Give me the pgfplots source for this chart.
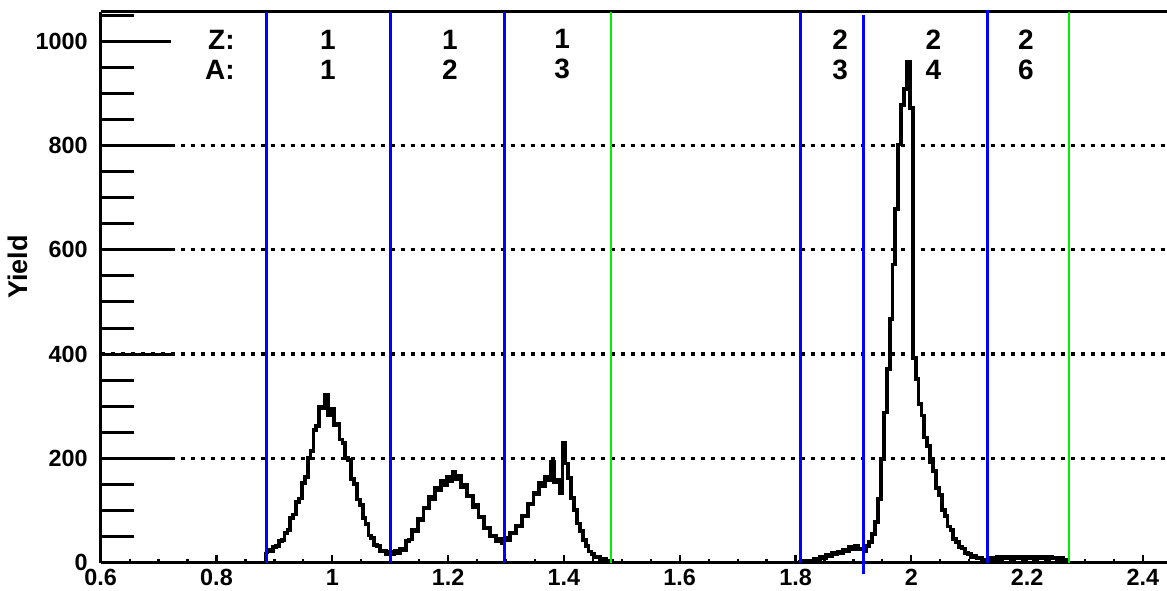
\documentclass[border=0pt]{standalone}
\usepackage{fontspec}
\setmainfont{Liberation Sans}
\usepackage{pgfplots}
\pgfplotsset{compat=1.18}
\definecolor{rootblue}{RGB}{0,0,255}
\definecolor{rootgreen}{RGB}{0,240,0}
\pgfplotstableread{
x y
0.8855 0
0.885 20
0.890 24
0.895 22
0.900 30
0.905 31
0.910 41
0.915 43
0.920 56
0.925 62
0.930 85
0.935 92
0.940 116
0.945 123
0.950 152
0.955 164
0.960 200
0.965 214
0.970 254
0.975 262
0.980 298
0.985 296
0.990 322
0.995 282
1.000 294
1.005 264
1.010 266
1.015 236
1.020 230
1.025 201
1.030 197
1.035 160
1.040 151
1.045 121
1.050 111
1.055 86
1.060 74
1.065 52
1.070 47
1.075 34
1.080 31
1.085 21
1.090 23
1.095 16
1.100 21
1.105 17
1.110 22
1.115 18
1.120 27
1.125 24
1.130 42
1.135 44
1.140 63
1.145 60
1.150 83
1.155 82
1.160 104
1.165 105
1.170 126
1.175 122
1.180 144
1.185 138
1.190 156
1.195 149
1.200 164
1.205 157
1.210 174
1.215 160
1.220 166
1.225 145
1.230 148
1.235 127
1.240 128
1.245 107
1.250 110
1.255 87
1.260 87
1.265 66
1.270 66
1.275 50
1.280 52
1.285 41
1.290 46
1.295 37
1.300 48
1.305 43
1.310 57
1.315 56
1.320 71
1.325 70
1.330 90
1.335 89
1.340 112
1.345 112
1.350 134
1.355 132
1.360 152
1.365 146
1.370 164
1.375 158
1.380 194
1.385 154
1.390 158
1.395 134
1.400 229
1.405 190
1.410 162
1.415 124
1.420 101
1.425 75
1.430 60
1.435 43
1.440 31
1.445 21
1.450 17
1.455 11
1.460 10
1.465 6
1.470 7
1.475 3
1.480 3
1.485 0
1.805 0
1.810 1
1.815 3
1.820 2
1.825 4
1.830 4
1.835 7
1.840 6
1.845 10
1.850 9
1.855 14
1.860 13
1.865 18
1.870 16
1.875 21
1.880 19
1.885 25
1.890 22
1.895 30
1.900 26
1.905 32
1.910 25
1.915 26
1.920 21
1.925 31
1.930 40
1.935 55
1.940 78
1.945 122
1.950 198
1.955 288
1.960 372
1.965 468
1.970 572
1.975 678
1.980 802
1.985 878
1.990 908
1.995 960
2.000 872
2.005 392
2.010 352
2.015 304
2.020 282
2.025 240
2.030 224
2.035 193
2.040 175
2.045 143
2.050 130
2.055 101
2.060 90
2.065 69
2.070 63
2.075 45
2.080 40
2.085 30
2.090 27
2.095 18
2.100 17
2.105 11
2.110 12
2.115 8
2.120 8
2.125 5
2.130 5
2.135 7
2.140 9
2.145 6
2.150 10
2.155 7
2.160 11
2.165 8
2.170 10
2.175 6
2.180 11
2.185 8
2.190 10
2.195 7
2.200 11
2.205 8
2.210 10
2.215 7
2.220 11
2.225 9
2.230 10
2.235 7
2.240 10
2.245 8
2.250 9
2.255 6
2.260 8
2.265 5
2.270 0
}\spectrum
\begin{document}
\begin{tikzpicture}
\useasboundingbox (-50.35pt,-13.75pt) rectangle (533.15pt,281.25pt);
\begin{axis}[
  at={(0pt,0pt)}, anchor=south west,
  scale only axis, width=533.15pt, height=275.4pt,
  xmin=0.6, xmax=2.4416, ymin=0, ymax=1057,
  clip=false,
  axis x line=box, axis y line=left,
  axis line style={line width=1.5pt, -},
  every outer x axis line/.append style={-},
  every outer y axis line/.append style={-},
  xtick={0.6,0.8,1,1.2,1.4,1.6,1.8,2,2.2,2.4},
  minor x tick num=3,
  xtick pos=bottom,
  ytick={0,200,400,600,800,1000},
  minor ytick={50,100,150,250,300,350,450,500,550,650,700,750,850,900,950,1050},
  tick align=inside,
  major tick length=35pt, minor tick length=16.5pt,
  ytick style={line width=1.5pt, black},
  minor y tick style={line width=1.5pt, black},
  xtick style={line width=1.1pt, black, /pgfplots/major tick length=4pt, /pgfplots/minor tick length=2pt},
  /pgf/number format/assume math mode=true,
  /pgf/number format/1000 sep={},
  ticklabel style={font=\fontsize{11.7}{14}\selectfont\bfseries},
  yticklabel style={xshift=-3pt},
  extra y ticks={200,400,600,800},
  extra y tick labels={},
  extra y tick style={grid=major, major grid style={black, line width=1.6pt, dash pattern=on 2pt off 3pt}},
  ylabel={Yield},
  every axis y label/.style={at={(axis description cs:-0.0776,0.5365)}, rotate=90, anchor=center, font=\fontsize{13.5}{15}\selectfont\bfseries},
]
\addplot[const plot mark mid, black, line width=1.9pt] table[x=x, y=y] {\spectrum};
\addplot[rootblue, line width=1.5pt] coordinates {(0.8855,0) (0.8855,1057)};
\addplot[rootblue, line width=1.5pt] coordinates {(1.0997,0) (1.0997,1057)};
\addplot[rootblue, line width=1.5pt] coordinates {(1.297,0) (1.297,1057)};
\addplot[rootgreen, line width=1.2pt] coordinates {(1.481,0) (1.481,1057)};
\addplot[rootblue, line width=1.5pt] coordinates {(1.808,0) (1.808,1057)};
\addplot[rootblue, line width=1.5pt] coordinates {(1.918,-22) (1.918,1050)};
\addplot[rootblue, line width=1.5pt] coordinates {(2.132,0) (2.132,1060)};
\addplot[rootgreen, line width=1.2pt] coordinates {(2.272,0) (2.272,1057)};
\node[anchor=east, inner sep=0pt, align=right, font=\fontsize{14}{15}\selectfont\bfseries] at (axis cs:0.832,975) {Z:\\A:};
\node[align=center, inner sep=0pt, font=\fontsize{14}{15}\selectfont\bfseries] at (axis cs:0.9926,975) {1\\1};
\node[align=center, inner sep=0pt, font=\fontsize{14}{15}\selectfont\bfseries] at (axis cs:1.2033,975) {1\\2};
\node[align=center, inner sep=0pt, font=\fontsize{14}{15}\selectfont\bfseries] at (axis cs:1.3968,975) {1\\3};
\node[align=center, inner sep=0pt, font=\fontsize{14}{15}\selectfont\bfseries] at (axis cs:1.877,975) {2\\3};
\node[align=center, inner sep=0pt, font=\fontsize{14}{15}\selectfont\bfseries] at (axis cs:2.038,975) {2\\4};
\node[align=center, inner sep=0pt, font=\fontsize{14}{15}\selectfont\bfseries] at (axis cs:2.198,975) {2\\6};
\end{axis}
\end{tikzpicture}
\end{document}
